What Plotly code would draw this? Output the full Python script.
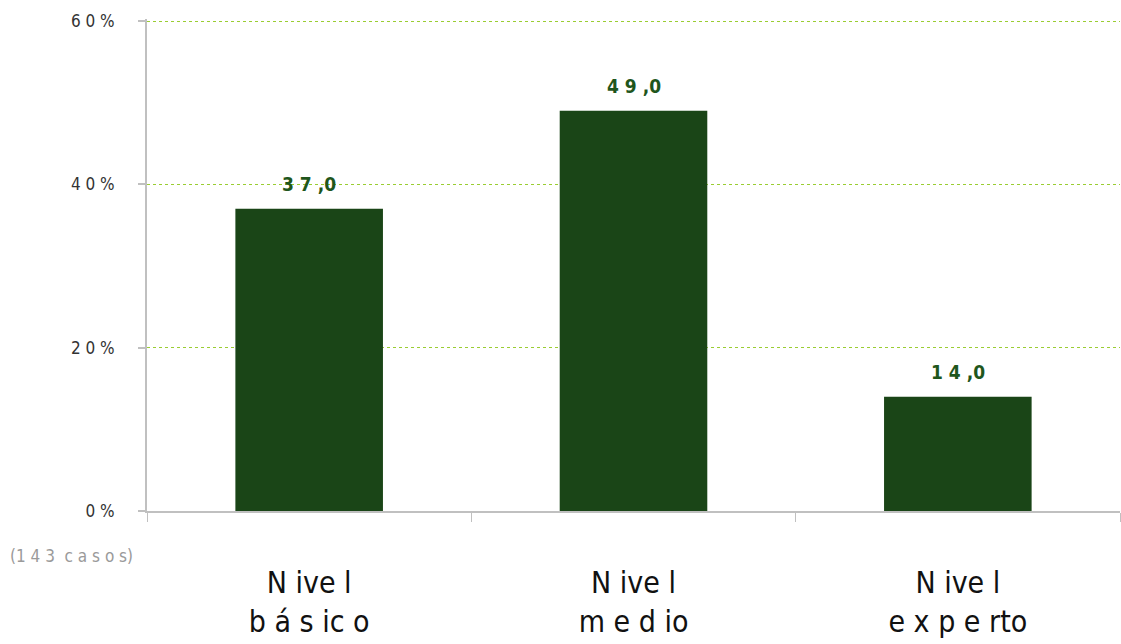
import plotly.graph_objects as go

# data
categories = ["Nivel básico", "Nivel medio", "Nivel experto"]
cat_lines = [["N ive l", "b á s ic o"], ["N ive l", "m e d io"], ["N ive l", "e x p e rto"]]
values = [37.0, 49.0, 14.0]
y_ticks = [0, 20, 40, 60]
y_ticktext = ["0 %", "2 0 %", "4 0 %", "6 0 %"]
note = "(1 4 3  c a s o s)"

FONT = "Liberation Sans Narrow, Arial Narrow, DejaVu Sans Condensed, sans-serif"
BAR_COLOR = "#1a4517"
LABEL_COLOR = "#1f561c"


def spaced(v):
    # "37,0" -> "3 7 ,0" like the reference labels
    s = f"{v:.1f}".replace(".", ",")
    head, tail = s.split(",")
    return " ".join(head) + " ," + tail


fig = go.Figure()
fig.add_trace(go.Bar(
    x=categories,
    y=values,
    marker_color=BAR_COLOR,
    marker_line_width=0,
    width=0.455,
    hoverinfo="skip",
))

# value labels above the bars
for cat, v in zip(categories, values):
    fig.add_annotation(
        x=cat, y=v, text="<b>" + spaced(v) + "</b>",
        showarrow=False, yanchor="bottom", yshift=12,
        font=dict(family=FONT, size=19, color=LABEL_COLOR),
    )

# footnote with the number of cases
fig.add_annotation(
    xref="paper", yref="paper", x=-0.143, y=-0.092,
    xanchor="left", yanchor="middle", showarrow=False,
    text=note, font=dict(family=FONT, size=17, color="#9a9a9a"),
)

fig.update_xaxes(
    tickmode="array",
    tickvals=categories,
    ticktext=["<br>".join(l) for l in cat_lines],
    tickson="boundaries",
    ticks="outside", ticklen=9, tickwidth=1, tickcolor="#c0c0c0",
    showline=True, linecolor="#c0c0c0", linewidth=2,
    showgrid=False,
    tickfont=dict(family=FONT, size=30, color="#111111"),
    ticklabelstandoff=44,
)
# range a touch above 60 so the top gridline is drawn
fig.update_yaxes(
    range=[0, 60.25],
    tickmode="array", tickvals=y_ticks, ticktext=y_ticktext,
    ticks="outside", ticklen=7, tickwidth=2, tickcolor="#c0c0c0",
    showline=True, linecolor="#c0c0c0", linewidth=2,
    showgrid=True, gridcolor="#9acd32", griddash="dot", gridwidth=1,
    zeroline=False,
    tickfont=dict(family=FONT, size=17, color="#333333"),
    ticklabelstandoff=20,
)
fig.update_layout(
    width=1121, height=644,
    margin=dict(l=147, r=1, t=19, b=133),
    plot_bgcolor="white", paper_bgcolor="white",
    showlegend=False, bargap=0.545,
)

fig.write_html("out.html", config={"displayModeBar": False},
               post_script="document.body.style.margin='0';")
